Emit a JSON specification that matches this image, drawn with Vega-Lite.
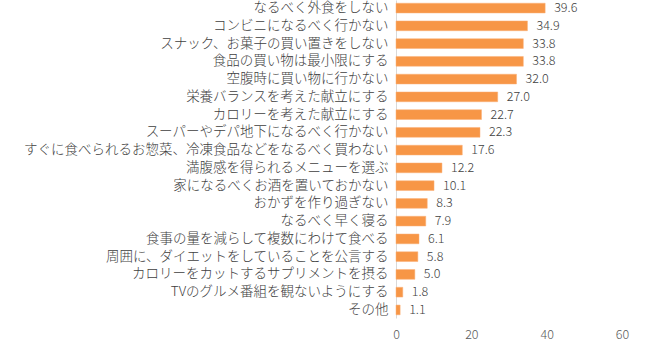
{
  "$schema": "https://vega.github.io/schema/vega-lite/v6.json",
  "width": 226,
  "height": 318,
  "autosize": {"type": "none"},
  "padding": {"left": 396, "top": 0, "right": 28, "bottom": 34},
  "background": "white",
  "config": {"view": {"stroke": null}, "font": "Noto Sans CJK JP"},
  "data": {"values": [
    {"item": "なるべく外食をしない", "value": 39.6},
    {"item": "コンビニになるべく行かない", "value": 34.9},
    {"item": "スナック、お菓子の買い置きをしない", "value": 33.8},
    {"item": "食品の買い物は最小限にする", "value": 33.8},
    {"item": "空腹時に買い物に行かない", "value": 32.0},
    {"item": "栄養バランスを考えた献立にする", "value": 27.0},
    {"item": "カロリーを考えた献立にする", "value": 22.7},
    {"item": "スーパーやデパ地下になるべく行かない", "value": 22.3},
    {"item": "すぐに食べられるお惣菜、冷凍食品などをなるべく買わない", "value": 17.6},
    {"item": "満腹感を得られるメニューを選ぶ", "value": 12.2},
    {"item": "家になるべくお酒を置いておかない", "value": 10.1},
    {"item": "おかずを作り過ぎない", "value": 8.3},
    {"item": "なるべく早く寝る", "value": 7.9},
    {"item": "食事の量を減らして複数にわけて食べる", "value": 6.1},
    {"item": "周囲に、ダイエットをしていることを公言する", "value": 5.8},
    {"item": "カロリーをカットするサプリメントを摂る", "value": 5.0},
    {"item": "TVのグルメ番組を観ないようにする", "value": 1.8},
    {"item": "その他", "value": 1.1}
  ]},
  "encoding": {
    "y": {
      "field": "item", "type": "nominal", "sort": null, "title": null,
      "scale": {"paddingInner": 0.45, "paddingOuter": 0.18},
      "axis": {"ticks": false, "domainColor": "#d9d9d9", "domainWidth": 1, "labelFontSize": 13.5, "labelColor": "#404040", "labelPadding": 8, "labelLimit": 0, "labelFontWeight": 300}
    },
    "x": {
      "field": "value", "type": "quantitative", "title": null,
      "scale": {"domain": [0, 60]},
      "axis": {"values": [0, 20, 40, 60], "grid": false, "domain": false, "ticks": false, "labelFontSize": 12.5, "labelColor": "#595959", "labelPadding": 10, "labelFlush": false, "labelFontWeight": 300}
    }
  },
  "layer": [
    {"mark": {"type": "bar", "color": "#F79646", "stroke": "#FAB078", "strokeWidth": 0.5}},
    {"mark": {"type": "text", "align": "left", "dx": 9, "fontSize": 12.5, "color": "#404040", "fontWeight": 300},
     "encoding": {"text": {"field": "value", "type": "quantitative", "format": ".1f"}}}
  ]
}
